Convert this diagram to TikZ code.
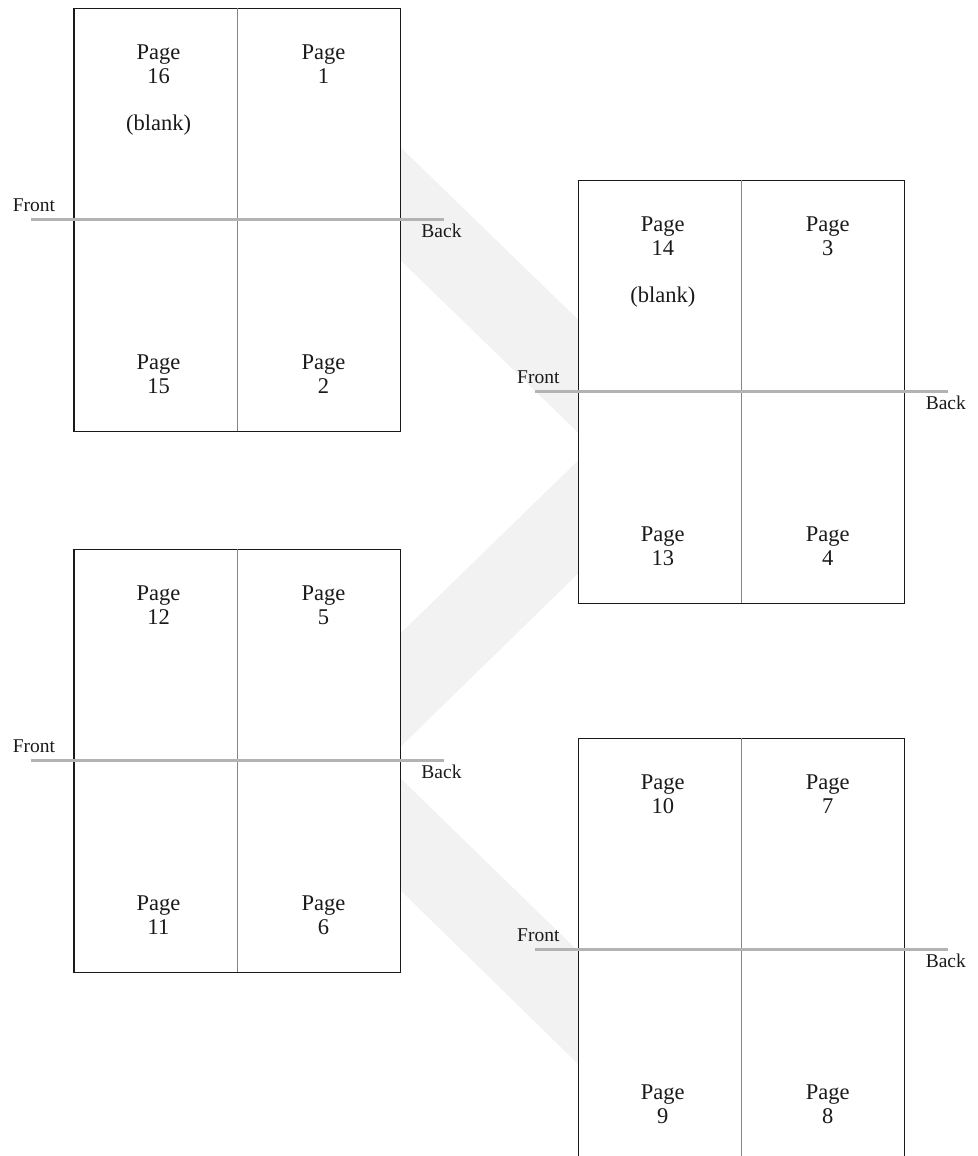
\documentclass[tikz,border=0pt]{standalone}
\usepackage{fontspec}
\setmainfont{Liberation Serif}
\usetikzlibrary{calc}
\definecolor{bandgray}{HTML}{F2F2F2}
\definecolor{rulegray}{HTML}{B3B3B3}
\definecolor{spinegray}{HTML}{858585}
\definecolor{inkcol}{HTML}{1A1A1A}
\begin{document}
\begin{tikzpicture}[x=1pt,y=-1pt,
  sheet/.style={draw=inkcol,line width=1.2pt,fill=white,minimum width=326.5pt,minimum height=423pt,inner sep=0pt,outer sep=0pt,anchor=north west},
  band/.style={fill=bandgray,draw=none},
  fold/.style={draw=rulegray,line width=2.7pt},
  spine/.style={draw=spinegray,line width=0.9pt},
  pagelbl/.style={font=\fontsize{22.5}{24}\selectfont,align=center,inner sep=0pt,anchor=base,text=inkcol},
  side/.style={font=\fontsize{19.5}{22}\selectfont,inner sep=0pt,anchor=base,text=inkcol}]
\clip (0,0) rectangle (977,1156);
% sheets (placed first so bands can refer to them)
\path (74,8.3) node[sheet,draw=none,fill=none] (A) {};
\path (578.3,180.3) node[sheet,draw=none,fill=none] (B) {};
\path (74,549.3) node[sheet,draw=none,fill=none] (C) {};
\path (578.3,738.3) node[sheet,draw=none,fill=none] (D) {};
% bands
\fill[band] ($(A.north east)+(0,139)$) -- ($(B.north west)+(0,139.5)$) -- ($(B.north west)+(0,252.5)$) -- ($(A.north east)+(0,252)$) -- cycle;
\fill[band] ($(C.north east)+(0,84)$) -- ($(B.north west)+(0,280)$) -- ($(B.north west)+(0,393)$) -- ($(C.north east)+(0,197.5)$) -- cycle;
\fill[band] ($(C.north east)+(0,229)$) -- ($(D.north west)+(0,213)$) -- ($(D.north west)+(0,326)$) -- ($(C.north east)+(0,341)$) -- cycle;
% sheet outlines
\foreach \s in {A,B,C,D}{
  \draw[draw=inkcol,line width=1.2pt,fill=white] (\s.north west) rectangle (\s.south east);
  \draw[spine] (\s.north) -- (\s.south);
}
% fold lines
\foreach \s in {A,B,C,D}{
  \draw[fold] ($(\s.west)+(-43.5,0)$) -- ($(\s.east)+(43.5,0)$);
  \node[side] (\s front) at ($(\s.west)+(-40,-8.5)$) {Front};
  \node[side] (\s back) at ($(\s.east)+(41,17.5)$) {Back};
}
% page labels (base anchor = baseline of the number line)
\node[pagelbl] (p16) at ($(A.north west)+(84.5,75.5)$) {Page\\16};
\node[pagelbl] (b16) at ($(A.north west)+(84.5,122)$) {(blank)};
\node[pagelbl] (p1)  at ($(A.north west)+(249.5,75.5)$) {Page\\1};
\node[pagelbl] (p15) at ($(A.north west)+(84.5,385)$) {Page\\15};
\node[pagelbl] (p2)  at ($(A.north west)+(249.5,385)$) {Page\\2};
\node[pagelbl] (p14) at ($(B.north west)+(84.5,75.5)$) {Page\\14};
\node[pagelbl] (b14) at ($(B.north west)+(84.5,122)$) {(blank)};
\node[pagelbl] (p3)  at ($(B.north west)+(249.5,75.5)$) {Page\\3};
\node[pagelbl] (p13) at ($(B.north west)+(84.5,385)$) {Page\\13};
\node[pagelbl] (p4)  at ($(B.north west)+(249.5,385)$) {Page\\4};
\node[pagelbl] (p12) at ($(C.north west)+(84.5,75.5)$) {Page\\12};
\node[pagelbl] (p5)  at ($(C.north west)+(249.5,75.5)$) {Page\\5};
\node[pagelbl] (p11) at ($(C.north west)+(84.5,385)$) {Page\\11};
\node[pagelbl] (p6)  at ($(C.north west)+(249.5,385)$) {Page\\6};
\node[pagelbl] (p10) at ($(D.north west)+(84.5,75.5)$) {Page\\10};
\node[pagelbl] (p7)  at ($(D.north west)+(249.5,75.5)$) {Page\\7};
\node[pagelbl] (p9)  at ($(D.north west)+(84.5,385)$) {Page\\9};
\node[pagelbl] (p8)  at ($(D.north west)+(249.5,385)$) {Page\\8};
\end{tikzpicture}
\end{document}
